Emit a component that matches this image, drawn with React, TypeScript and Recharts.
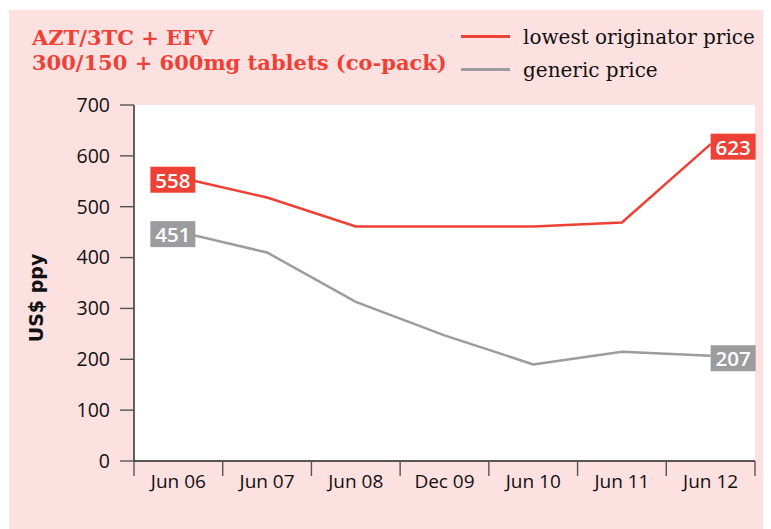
import React from 'react';
import { LineChart, Line, XAxis, YAxis, LabelList, CartesianGrid } from 'recharts';

const categories = ['Jun 06', 'Jun 07', 'Jun 08', 'Dec 09', 'Jun 10', 'Jun 11', 'Jun 12'];
const originatorPrice = [558, 518, 461, 461, 461, 469, 623];
const genericPrice = [451, 410, 313, 247, 190, 215, 207];
const yTicks = [0, 100, 200, 300, 400, 500, 600, 700];
const titleLines = ['AZT/3TC + EFV', '300/150 + 600mg tablets (co-pack)'];
const seriesNames = ['lowest originator price', 'generic price'];
const yAxisTitle = 'US$ ppy';

const data = categories.map((c, i) => ({ period: c, originator: originatorPrice[i], generic: genericPrice[i] }));

const RED = '#ee4136';
const GRAY = '#9c9c9f';
const PINK = '#fde0e0';
const TICK_FONT = '"Open Sans", sans-serif';

const W = 762;
const H = 519;
const XH = 30;
const MARGIN = { top: 95, right: 16, bottom: 68 - XH, left: 0 };
const YW = 125;
const BAND = (W - MARGIN.left - MARGIN.right - YW) / categories.length;

const XTick = (props: any) => {
  const { x, y, payload, index } = props;
  const half = BAND / 2;
  const top = y - 15;
  return (
    <g>
      <line x1={x - half} x2={x - half} y1={top} y2={y} stroke="#555" strokeWidth={1.4} />
      {index === categories.length - 1 && (
        <line x1={x + half} x2={x + half} y1={top} y2={y} stroke="#555" strokeWidth={1.4} />
      )}
      <text x={x} y={y + 12} textAnchor="middle" fontFamily={TICK_FONT} fontSize={19} fill="#111">
        {payload.value}
      </text>
    </g>
  );
};

const makeEndLabel = (color: string) => (props: any) => {
  const { x, y, value, index } = props;
  const last = categories.length - 1;
  if (index !== 0 && index !== last) return null;
  const w = 45;
  const h = 26;
  const left = index === 0 ? x - 28 : x;
  const cy = y + 2.5;
  return (
    <g>
      <rect x={left} y={cy - h / 2} width={w} height={h} fill={color} />
      <text x={left + w / 2} y={cy} textAnchor="middle" dominantBaseline="central" fill="#fff" fontFamily={TICK_FONT} fontSize={20.5} fontWeight={600}>
        {value}
      </text>
    </g>
  );
};

const YLabel = () => (
  <text
    x={27}
    y={288}
    transform="rotate(-90 27 288)"
    textAnchor="middle"
    dominantBaseline="central"
    fontFamily="'DejaVu Sans', sans-serif"
    fontWeight={700}
    fontSize={19}
    fill="#111"
  >
    {yAxisTitle}
  </text>
);

export default function App() {
  return (
    <div style={{ position: 'relative', width: 763, height: 521 }}>
      <div style={{ position: 'absolute', left: 1, top: 2, width: W, height: H, background: PINK }}>
        <div
          style={{
            position: 'absolute',
            left: 23,
            top: 15,
            color: RED,
            fontFamily: "'DejaVu Serif', serif",
            fontWeight: 700,
            fontSize: 21,
            lineHeight: '25px',
            whiteSpace: 'nowrap',
          }}
        >
          {titleLines.map((t) => (
            <div key={t}>{t}</div>
          ))}
        </div>
        <div style={{ position: 'absolute', left: 452, top: 10, fontFamily: "'DejaVu Serif', serif", fontSize: 20, color: '#111' }}>
          {seriesNames.map((n, i) => (
            <div key={n} style={{ display: 'flex', alignItems: 'center', height: 33 }}>
              <div style={{ width: 49, height: 3, background: i === 0 ? RED : GRAY, marginRight: 13 }} />
              <span style={{ whiteSpace: 'nowrap' }}>{n}</span>
            </div>
          ))}
        </div>
        <LineChart width={W} height={H} data={data} margin={MARGIN} style={{ position: 'absolute', left: 0, top: 0 }}>
          <CartesianGrid fill="#ffffff" horizontal={false} vertical={false} stroke="none" />
          <XAxis
            dataKey="period"
            height={XH}
            padding={{ left: BAND / 2, right: BAND / 2 }}
            tickLine={false}
            tickSize={15}
            tickMargin={0}
            axisLine={{ stroke: '#222', strokeWidth: 1.4 }}
            tick={<XTick />}
            interval={0}
          />
          <YAxis
            width={YW}
            domain={[0, 700]}
            ticks={yTicks}
            tickSize={14}
            tickMargin={10}
            axisLine={{ stroke: '#222', strokeWidth: 1.4 }}
            tickLine={{ stroke: '#555', strokeWidth: 1.4 }}
            tick={{ fontFamily: TICK_FONT, fontSize: 19.5, fill: '#111' }}
            label={<YLabel />}
          />
          <Line type="linear" dataKey="originator" stroke={RED} strokeWidth={2.5} dot={false} isAnimationActive={false}>
            <LabelList dataKey="originator" content={makeEndLabel(RED)} />
          </Line>
          <Line type="linear" dataKey="generic" stroke={GRAY} strokeWidth={2.5} dot={false} isAnimationActive={false}>
            <LabelList dataKey="generic" content={makeEndLabel(GRAY)} />
          </Line>
        </LineChart>
      </div>
    </div>
  );
}
